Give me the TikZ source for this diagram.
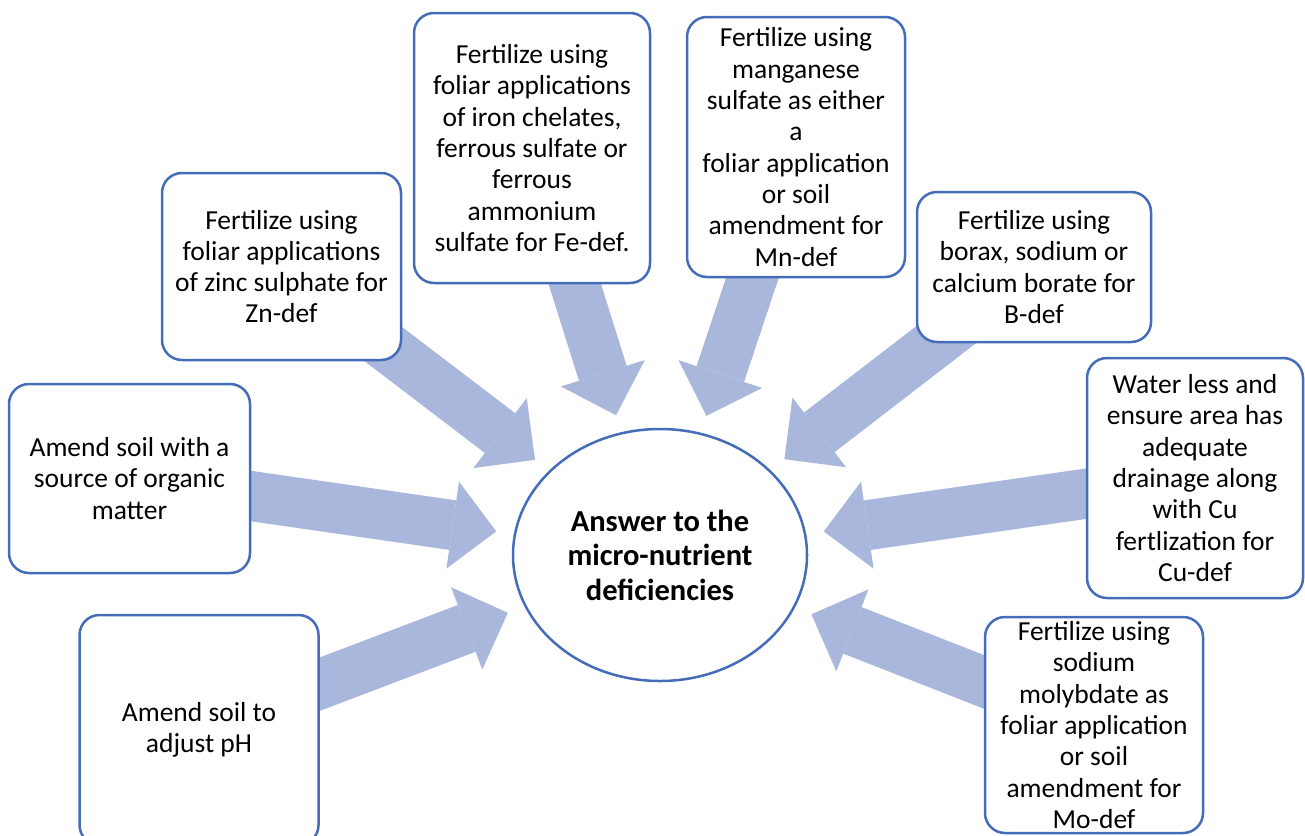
\documentclass[tikz,border=0pt]{standalone}
\usepackage{fontspec}
\setmainfont{Carlito}
\usetikzlibrary{arrows.meta, shapes.geometric, positioning}

\definecolor{boxblue}{RGB}{68,108,185}
\definecolor{arrowblue}{RGB}{169,183,220}

\pgfdeclarelayer{background}
\pgfsetlayers{background,main}

\begin{document}
\begin{tikzpicture}[
    x=1pt, y=-1pt,
    tipbox/.style={draw=boxblue, line width=2.5pt, rounded corners=20pt, fill=white,
        align=center, inner sep=0pt, outer sep=0pt,
        font=\fontsize{27.5}{31.3}\selectfont},
    hub/.style={ellipse, draw=boxblue, line width=2.5pt, fill=white, align=center,
        inner sep=0pt, outer sep=0pt, minimum width=294pt, minimum height=252pt,
        font=\fontsize{30.5}{34.5}\selectfont\bfseries},
    feed/.style={draw=arrowblue, line width=50pt,
        -{Triangle[length=44pt, width=88pt, line width=0pt]}, shorten >=19pt}
]

\useasboundingbox (0,0) rectangle (1305,835);

% Centre
\node[hub] (hub) at (660,555) {Answer to the\\micro-nutrient\\deficiencies};

% Boxes round the centre
\node[tipbox, minimum width=239pt, minimum height=187pt] (zn) at (281.5,266.5)
    {Fertilize using\\foliar applications\\of zinc sulphate for\\Zn-def};
\node[tipbox, minimum width=236pt, minimum height=270pt] (fe) at (532,148)
    {Fertilize using\\foliar applications\\of iron chelates,\\ferrous sulfate or\\ferrous\\ammonium\\sulfate for Fe-def.};
\node[tipbox, minimum width=218pt, minimum height=260pt] (mn) at (796,147)
    {Fertilize using\\manganese\\sulfate as either\\a\\foliar application\\or soil\\amendment for\\Mn-def};
\node[tipbox, minimum width=234pt, minimum height=150pt] (bor) at (1034,267)
    {Fertilize using\\borax, sodium or\\calcium borate for\\B-def};
\node[tipbox, minimum width=216pt, minimum height=240pt] (cu) at (1195,478)
    {Water less and\\ensure area has\\adequate\\drainage along\\with Cu\\fertlization for\\Cu-def};
\node[tipbox, minimum width=218pt, minimum height=216pt] (mo) at (1094,725)
    {Fertilize using\\sodium\\molybdate as\\foliar application\\or soil\\amendment for\\Mo-def};
\node[tipbox, minimum width=239pt, minimum height=230pt] (ph) at (199,730)
    {Amend soil to\\adjust pH};
\node[tipbox, minimum width=241pt, minimum height=189pt] (org) at (129.5,478.5)
    {Amend soil with a\\source of organic\\matter};

% Block arrows, under the boxes
\begin{pgfonlayer}{background}
\foreach \src in {zn, fe, mn, bor, cu, mo, ph, org}
    \draw[feed] (\src.center) -- (hub);
\end{pgfonlayer}

\end{tikzpicture}
\end{document}
